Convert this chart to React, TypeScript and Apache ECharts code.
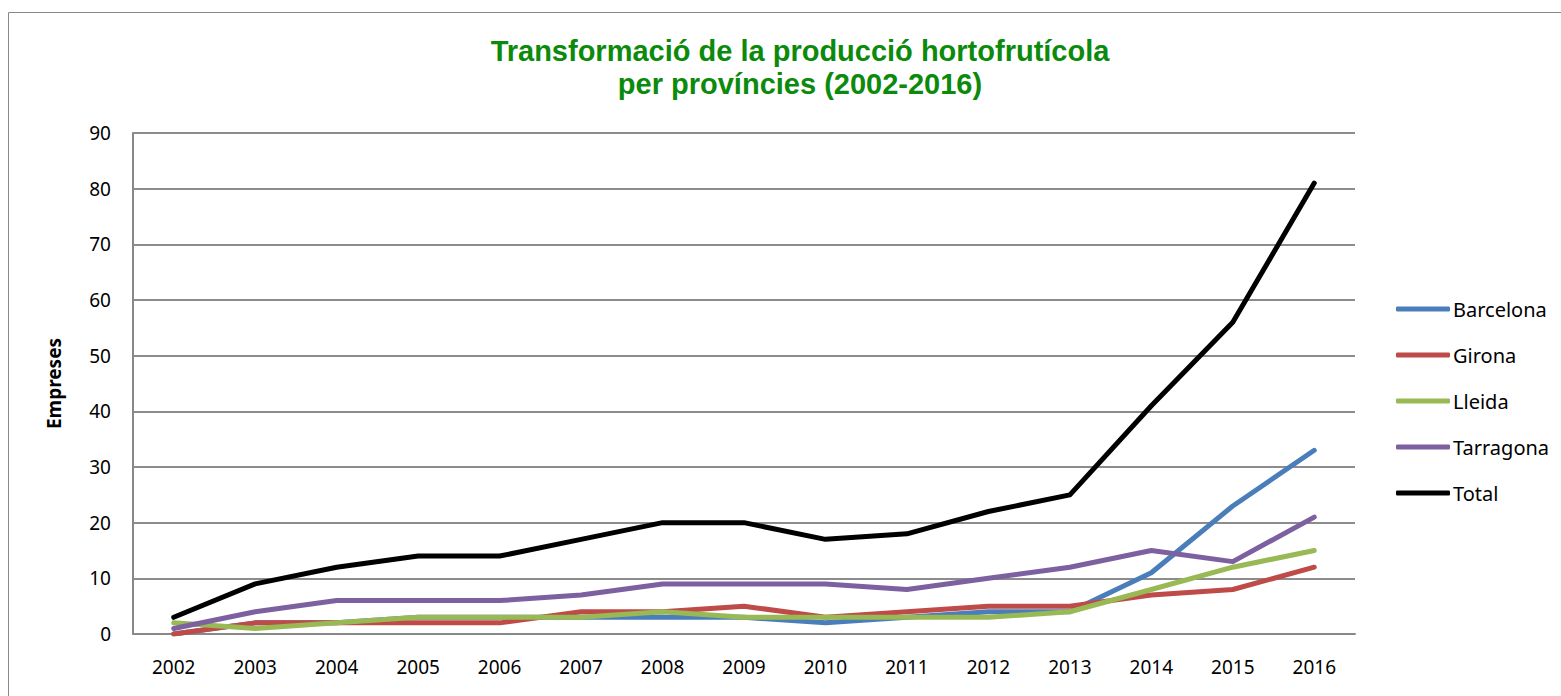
import React, { useEffect, useRef } from "react";
import * as echarts from "echarts";

const years = ["2002", "2003", "2004", "2005", "2006", "2007", "2008", "2009", "2010", "2011", "2012", "2013", "2014", "2015", "2016"];
const barcelona = [0, 2, 2, 3, 3, 3, 3, 3, 2, 3, 4, 4, 11, 23, 33];
const girona = [0, 2, 2, 2, 2, 4, 4, 5, 3, 4, 5, 5, 7, 8, 12];
const lleida = [2, 1, 2, 3, 3, 3, 4, 3, 3, 3, 3, 4, 8, 12, 15];
const tarragona = [1, 4, 6, 6, 6, 7, 9, 9, 9, 8, 10, 12, 15, 13, 21];
const total = [3, 9, 12, 14, 14, 17, 20, 20, 17, 18, 22, 25, 41, 56, 81];

const seriesDefs = [
  { name: "Barcelona", data: barcelona, color: "#4a7ebb" },
  { name: "Girona", data: girona, color: "#be4b48" },
  { name: "Lleida", data: lleida, color: "#98b954" },
  { name: "Tarragona", data: tarragona, color: "#7d60a0" },
  { name: "Total", data: total, color: "#000000" },
];

const TITLE_FONT = "Liberation Sans";
const FONT = "Noto Sans";

export default function App() {
  const ref = useRef<HTMLDivElement>(null);
  useEffect(() => {
    if (!ref.current) return;
    const chart = echarts.init(ref.current, undefined, { renderer: "svg" });
    chart.setOption({
      animation: false,
      backgroundColor: "#ffffff",
      title: {
        text: "Transformació de la producció hortofrutícola\nper províncies (2002-2016)",
        left: 795,
        top: 29,
        textAlign: "center",
        textStyle: {
          color: "#0b8a0b",
          fontFamily: TITLE_FONT,
          fontWeight: "bold",
          fontSize: 29,
          lineHeight: 33,
        },
      },
      graphic: [
        {
          type: "rect",
          shape: { x: 8.5, y: 12.5, width: 1600, height: 720 },
          style: { fill: "none", stroke: "#888888", lineWidth: 1 },
          silent: true,
        },
      ],
      legend: {
        orient: "vertical",
        left: 1391,
        top: 294,
        itemWidth: 54,
        itemHeight: 5,
        itemGap: 26,
        icon: "roundRect",
        textStyle: { fontFamily: FONT, fontSize: 20, color: "#000", padding: [0, 0, 0, -2] },
        data: seriesDefs.map((s) => s.name),
      },
      grid: { left: 133, right: 206, top: 133, bottom: 62, containLabel: false },
      xAxis: {
        type: "category",
        data: years,
        boundaryGap: true,
        axisLine: { show: true, lineStyle: { color: "#888888", width: 2 } },
        axisTick: { show: false },
        axisLabel: { fontFamily: FONT, fontSize: 19, color: "#000", margin: 23 },
      },
      yAxis: {
        type: "value",
        min: 0,
        max: 90,
        interval: 10,
        name: "Empreses",
        nameLocation: "middle",
        nameGap: 70,
        nameRotate: 90,
        nameTextStyle: { fontFamily: FONT, fontSize: 19, fontWeight: "bold", color: "#000" },
        axisLine: { show: true, lineStyle: { color: "#888888", width: 2 } },
        axisTick: { show: false },
        axisLabel: { fontFamily: FONT, fontSize: 19, color: "#000", margin: 22 },
        splitLine: { show: true, lineStyle: { color: "#8c8c8c", width: 2 } },
      },
      series: seriesDefs.map((s) => ({
        name: s.name,
        type: "line",
        data: s.data,
        symbol: "none",
        color: s.color,
        lineStyle: { color: s.color, width: 5, cap: "round", join: "round" },
      })),
    });
    return () => chart.dispose();
  }, []);
  return (
    <div
      ref={ref}
      style={{ position: "fixed", left: 0, top: 0, width: 1561, height: 696 }}
    />
  );
}
